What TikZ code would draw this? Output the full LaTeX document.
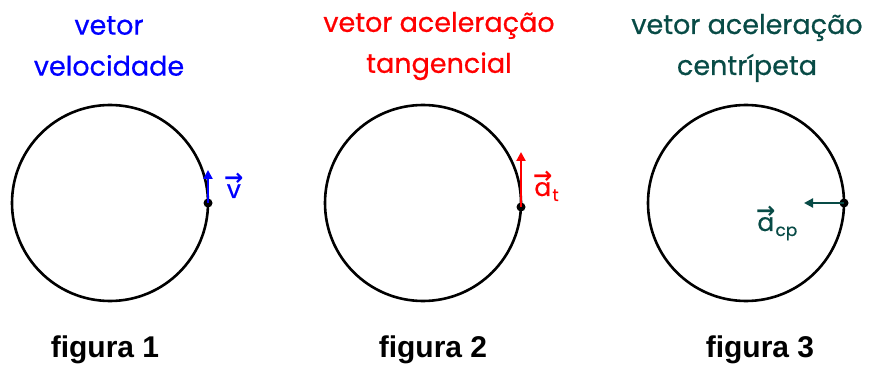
\documentclass[tikz,border=0pt]{standalone}
\usepackage{fontspec}
\setmainfont{Poppins}
\newfontfamily\titlefont{Poppins}[FakeBold=0.6]
\newfontfamily\figfont{Liberation Sans}
\newfontfamily\symfont{DejaVu Sans}
\usepackage{xcolor}
\usetikzlibrary{arrows.meta,positioning}

\definecolor{velblue}{RGB}{0,0,255}
\definecolor{tanred}{RGB}{255,0,0}
\definecolor{cpteal}{RGB}{8,75,70}

% letter with a small arrow on top
\newcommand{\vetsym}[1]{\leavevmode\vbox{\offinterlineskip\halign{\hfil##\hfil\cr
    {\symfont\bfseries\fontsize{23}{23}\selectfont →}\cr\noalign{\kern-1pt}#1\cr}}}
\newcommand{\indice}[1]{\raisebox{-5pt}{\fontsize{17}{17}\selectfont #1}}

\tikzset{
    orbit/.style={line width=2.6pt},
    point/.style={circle,fill=black,inner sep=0pt,minimum size=9pt},
    vecarrow/.style={line width=2.6pt,-{Triangle[length=9pt,width=9pt]}},
    title/.style={font=\titlefont\fontsize{27}{41}\selectfont,align=center},
    veclabel/.style={font=\titlefont\fontsize{25}{25}\selectfont,inner sep=0pt},
    figlabel/.style={font=\figfont\bfseries\fontsize{30}{30}\selectfont}
}

\begin{document}
\begin{tikzpicture}[x=1pt,y=1pt]
    \useasboundingbox (0,0) rectangle (872,367);

    % figura 1 - velocidade
    \draw [orbit] (110,164) circle (98);
    \node [point] (p1) at (208,164) {};
    \coordinate (v1) at (208,197);
    \draw [vecarrow,velblue] (p1.center) -- (v1);
    \node [veclabel,velblue,anchor=base west] (lv) at (224,169) {\vetsym{v}};
    \node [title,velblue] (t1) at (109,321) {vetor\\velocidade};
    \node [figlabel] (f1) at (105,17) {figura 1};

    % figura 2 - tangencial
    \draw [orbit] (423,164) circle (98);
    \node [point] (p2) at (521,160) {};
    \coordinate (v2) at (521,215);
    \draw [vecarrow,tanred,line width=2.2pt] (p2.center) -- (v2);
    \node [veclabel,tanred,anchor=base west] (la) at (533,171) {\vetsym{a}\indice{t}};
    \node [title,tanred] (t2) at (439,321) {vetor acelera\c{c}\~ao\\tangencial};
    \node [figlabel] (f2) at (433,17) {figura 2};

    % figura 3 - centripeta
    \draw [orbit] (746,164) circle (98);
    \node [point] (p3) at (844,164) {};
    \coordinate (v3) at (804,164);
    \draw [vecarrow,cpteal] (p3.center) -- (v3);
    \node [veclabel,cpteal,anchor=base west] (lc) at (756,136) {\vetsym{a}\indice{cp}};
    \node [title,cpteal] (t3) at (747,319) {vetor acelera\c{c}\~ao\\centr\'ipeta};
    \node [figlabel] (f3) at (760,17) {figura 3};
\end{tikzpicture}
\end{document}
